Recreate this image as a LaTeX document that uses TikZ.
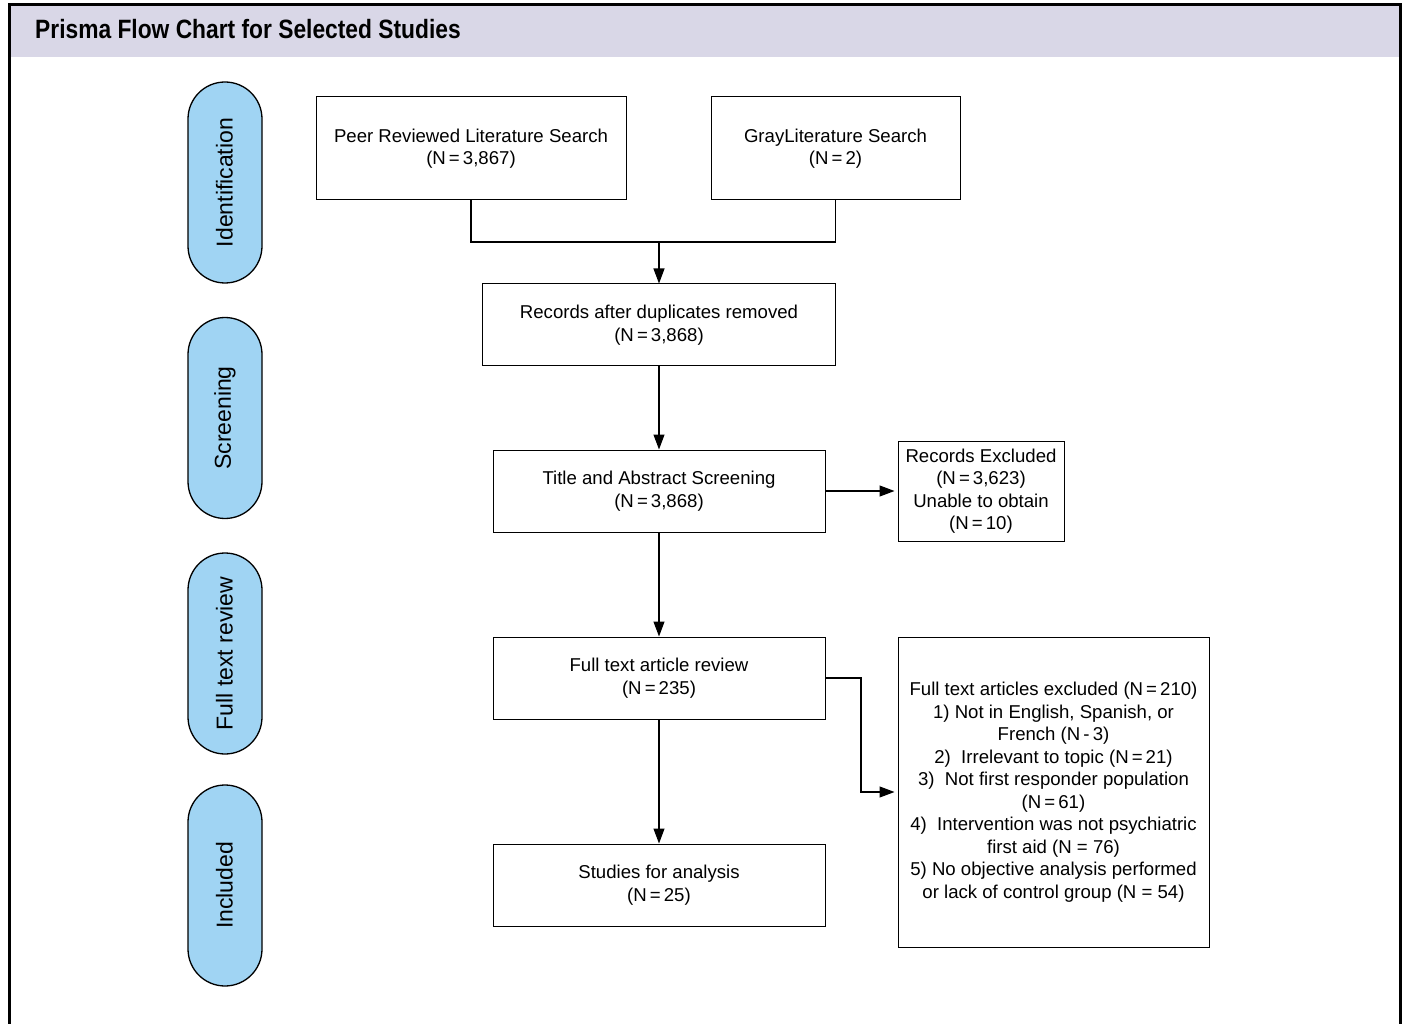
\documentclass[tikz,border=0pt]{standalone}
\usepackage{fontspec}
\setmainfont{Liberation Sans}
\newfontfamily\titlefont[FakeStretch=0.86]{Liberation Sans}
\usetikzlibrary{arrows.meta}
\definecolor{headbg}{HTML}{D9D7E7}
\definecolor{pillbg}{HTML}{A0D4F3}
\begin{document}
\begin{tikzpicture}[x=1pt,y=-1pt,
  box/.style={draw, line width=1pt, align=center, inner sep=0pt,
    font=\fontsize{18.6}{22.5}\selectfont},
  pill/.style={draw, line width=1.3pt, fill=pillbg, rounded corners=37pt,
    minimum width=201pt, minimum height=74pt, rotate=90, inner sep=0pt,
    font=\fontsize{23}{26}\selectfont},
  conn/.style={line width=1.1pt},
  arr/.style={line width=1.1pt, -{Triangle[length=15pt,width=11pt]}}]
\useasboundingbox (0,0) rectangle (1409,1024);
% header and frame
\fill[headbg] (11,6) rectangle (1399,57);
\draw[line width=3pt] (9.5,1030) -- (9.5,4.5) -- (1400.5,4.5) -- (1400.5,1030);
\node[anchor=base west, inner sep=0pt, font=\titlefont\bfseries\fontsize{26.5}{30}\selectfont] (title) at (35,39) {Prisma Flow Chart for Selected Studies};
% stage pills
\node[pill] (p1) at (225,182.5) {\raisebox{1.5pt}{Identification}};
\node[pill] (p2) at (225,418) {\raisebox{1.5pt}{Screening}};
\node[pill] (p3) at (225,653.5) {\raisebox{1.5pt}{Full text review}};
\node[pill] (p4) at (225,885.5) {\raisebox{1.5pt}{Included}};
% boxes
\node[box, minimum width=310, minimum height=103] (peer) at (471,148.5) {Peer Reviewed Literature Search\\(N\,=\,3,867)};
\node[box, minimum width=249, minimum height=103] (gray) at (835.5,148.5) {GrayLiterature Search\\(N\,=\,2)};
\node[box, minimum width=353, minimum height=82] (dup) at (659,325) {Records after duplicates removed\\(N\,=\,3,868)};
\node[box, minimum width=332, minimum height=82] (ta) at (659,491) {Title and Abstract Screening\\(N\,=\,3,868)};
\node[box, minimum width=166, minimum height=100] (rex) at (981,491) {Records Excluded\\(N\,=\,3,623)\\Unable to obtain\\(N\,=\,10)};
\node[box, minimum width=332, minimum height=82] (ft) at (659,678) {Full text article review\\(N\,=\,235)};
\node[box, minimum width=332, minimum height=82] (st) at (659,885) {Studies for analysis\\(N\,=\,25)};
\node[box, minimum width=311, minimum height=310] (fex) at (1053.5,792) {Full text articles excluded (N\,=\,210)\\1) Not in English, Spanish, or\\French (N\,-\,3)\\2)\ \ Irrelevant to topic (N\,=\,21)\\3)\ \ Not first responder population\\(N\,=\,61)\\4)\ \ Intervention was not psychiatric\\first aid (N = 76)\\5) No objective analysis performed\\or lack of control group (N = 54)};
% connectors
\coordinate (j) at (659,242);
\draw[conn] (peer.south) |- (j);
\draw[conn] (gray.south) |- (j);
\draw[arr] (j) -- (dup.north);
\draw[arr] (dup.south) -- (ta.north);
\draw[arr, shorten >=3pt] (ta.east) -- (rex.west);
\draw[arr] (ta.south) -- (ft.north);
\draw[arr] (ft.south) -- (st.north);
\coordinate (k) at (861,678);
\draw[arr, shorten >=3pt] (ft.east) -- (k) |- (fex.west);
\end{tikzpicture}
\end{document}
